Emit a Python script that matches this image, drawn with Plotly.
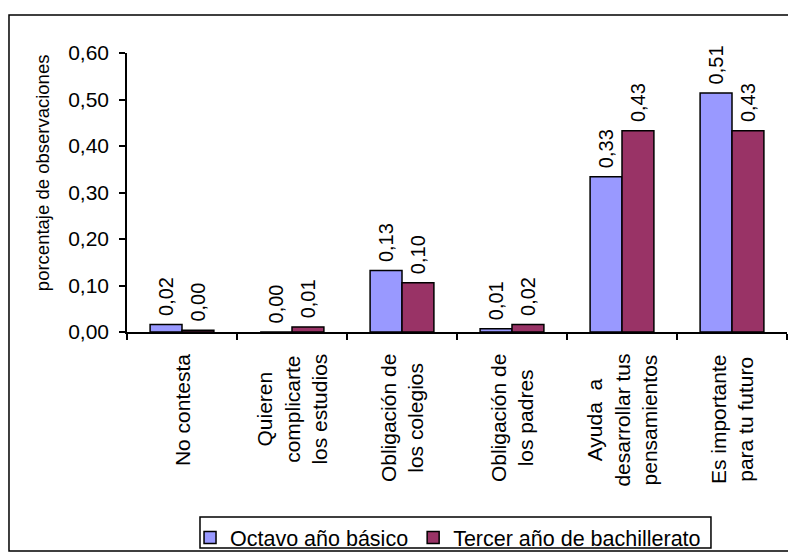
import plotly.graph_objects as go

categories = ["No contesta", "Quieren complicarte los estudios", "Obligación de los colegios",
              "Obligación de los padres", "Ayuda a desarrollar tus pensamientos",
              "Es importante para tu futuro"]
category_labels = ["No contesta", "Quieren<br>complicarte<br>los estudios", "Obligación de<br>los colegios",
                   "Obligación de<br>los padres", "Ayuda  a<br>desarrollar tus<br>pensamientos",
                   "Es importante<br>para tu futuro"]
octavo = [0.016, 0.0, 0.132, 0.007, 0.334, 0.514]
tercer = [0.004, 0.011, 0.106, 0.016, 0.433, 0.433]
octavo_labels = ["0,02", "0,00", "0,13", "0,01", "0,33", "0,51"]
tercer_labels = ["0,00", "0,01", "0,10", "0,02", "0,43", "0,43"]
series_names = ["Octavo año básico", "Tercer año de bachillerato"]
yticks = [0, 0.1, 0.2, 0.3, 0.4, 0.5, 0.6]
y_title = "porcentaje de observaciones"

FONT = "Liberation Sans, Arial, sans-serif"
FS = 21

fig = go.Figure()
for name, vals, labs, col in [(series_names[0], octavo, octavo_labels, "#9999FF"),
                              (series_names[1], tercer, tercer_labels, "#993366")]:
    fig.add_trace(go.Bar(
        x=categories, y=vals, name=name, text=labs, texttemplate="\u00a0%{text}",
        textposition="outside", textangle=-90, constraintext="none", cliponaxis=False,
        textfont=dict(family=FONT, size=20, color="black"),
        marker=dict(color=col, line=dict(color="black", width=1.5)),
    ))

annotations = []
for c, lab in zip(categories, category_labels):
    annotations.append(dict(
        x=c, xref="x", y=-0.072, yref="paper", text=lab, showarrow=False,
        textangle=-90, xanchor="center", yanchor="top", align="center",
        font=dict(family=FONT, size=FS, color="black")))
annotations.append(dict(
    x=-0.1288, xref="paper", y=0.573, yref="paper", text=y_title, showarrow=False,
    textangle=-90, xanchor="center", yanchor="middle",
    font=dict(family=FONT, size=18.5, color="black")))

fig.update_layout(
    width=788, height=556,
    margin=dict(l=127, r=1, t=53, b=224, autoexpand=False),
    paper_bgcolor="white", plot_bgcolor="white",
    separators=",.",
    barmode="group", bargap=0.42, bargroupgap=0,
    font=dict(family=FONT, size=FS, color="black"),
    showlegend=True,
    legend=dict(orientation="h", x=0.0955, y=-0.663, xanchor="left", yanchor="top",
                borderwidth=0, font=dict(family=FONT, size=21.5),
                itemwidth=30, tracegroupgap=0, bgcolor="rgba(0,0,0,0)"),
    xaxis=dict(type="category", showticklabels=False, ticks="outside", ticklen=6,
               tickson="boundaries", tickcolor="black", tickwidth=1.5,
               showline=True, linecolor="black", linewidth=1.5, showgrid=False,
               zeroline=False),
    yaxis=dict(range=[0, 0.6], tickvals=yticks, tickformat=".2f", ticks="outside",
               ticklen=6, tickcolor="black", tickwidth=1.5, showline=True,
               linecolor="black", linewidth=1.5, showgrid=False, zeroline=False,
               ticklabelstandoff=6, tickfont=dict(family=FONT, size=FS)),
    annotations=annotations,
    shapes=[
        dict(type="rect", xref="paper", yref="paper", x0=-0.1788, x1=1.05,
             y0=-0.785, y1=1.1362, line=dict(color="black", width=1.5),
             fillcolor="rgba(0,0,0,0)", layer="below"),
        dict(type="rect", xref="paper", yref="paper", x0=0.1106, x1=0.8848,
             y0=-0.774, y1=-0.663, line=dict(color="black", width=1.5),
             fillcolor="rgba(0,0,0,0)", layer="below"),
    ],
)

fig.write_html("out.html", config={"displayModeBar": False},
               post_script="document.body.style.margin='0';document.body.style.overflow='hidden';")
